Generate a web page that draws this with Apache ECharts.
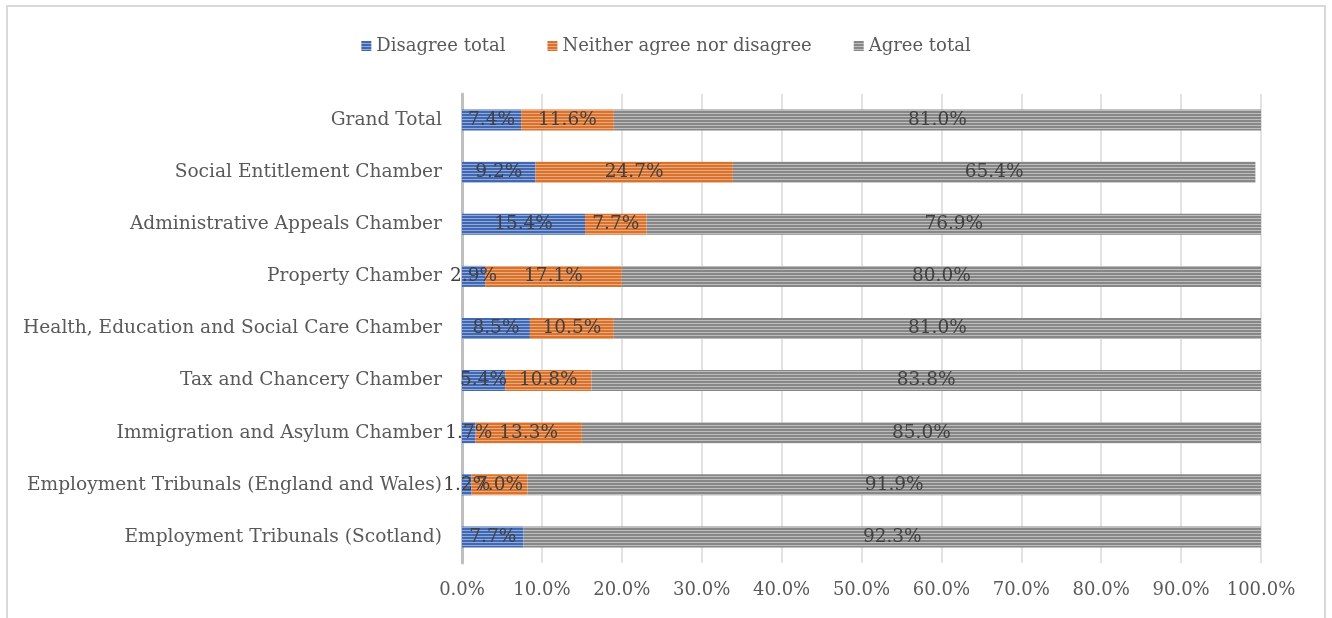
<!DOCTYPE html>
<html>
<head>
<meta charset="utf-8">
<script src="https://cdn.jsdelivr.net/npm/echarts@6/dist/echarts.min.js"></script>
<style>
  html, body { margin: 0; padding: 0; background: #fff; }
  #chart { width: 1332px; height: 618px; }
</style>
</head>
<body>
<div id="chart"></div>
<script>
// categories, top to bottom
const categories = [
  'Grand Total',
  'Social Entitlement Chamber',
  'Administrative Appeals Chamber',
  'Property Chamber',
  'Health, Education and Social Care Chamber',
  'Tax and Chancery Chamber',
  'Immigration and Asylum Chamber',
  'Employment Tribunals (England and Wales)',
  'Employment Tribunals (Scotland)'
]
const disagreeTotal = [7.4, 9.2, 15.4, 2.9, 8.5, 5.4, 1.7, 1.2, 7.7]
const neitherAgree = [11.6, 24.7, 7.7, 17.1, 10.5, 10.8, 13.3, 7.0, 0]
const agreeTotal = [81.0, 65.4, 76.9, 80.0, 81.0, 83.8, 85.0, 91.9, 92.3]

const FONT = 'DejaVu Serif'

// striped fill like excel's narrow horizontal pattern
const stripes = (dark, light) => {
  const c = document.createElement('canvas')
  c.width = 4
  c.height = 3
  const ctx = c.getContext('2d')
  ctx.fillStyle = dark
  ctx.fillRect(0, 0, 4, 3)
  ctx.fillStyle = light
  ctx.fillRect(0, 2, 4, 1)
  return { image: c, repeat: 'repeat' }
}

const makeSeries = (name, data, dark, light) => ({
  name,
  type: 'bar',
  stack: 'total',
  barWidth: 21,
  data,
  itemStyle: { color: stripes(dark, light) },
  label: {
    show: true,
    position: 'inside',
    color: '#404040',
    fontFamily: FONT,
    fontSize: 18.5,
    formatter: (p) => (p.value ? p.value.toFixed(1) + '%' : '')
  },
  emphasis: { disabled: true }
})

const chart = echarts.init(document.getElementById('chart'))
const option = {
  animation: false,
  backgroundColor: '#fff',
  textStyle: { fontFamily: FONT },
  graphic: [{
    type: 'rect',
    shape: { x: 7, y: 6, width: 1318, height: 640 },
    style: { fill: 'none', stroke: '#d9d9d9', lineWidth: 2 },
    silent: true
  }],
  legend: {
    top: 32,
    left: 'center',
    icon: 'rect',
    itemWidth: 10,
    itemHeight: 10,
    itemGap: 42,
    textStyle: { color: '#595959', fontSize: 18, fontFamily: FONT }
  },
  grid: { left: 462, right: 71, top: 94, bottom: 55 },
  xAxis: {
    type: 'value',
    min: 0,
    max: 100,
    interval: 10,
    axisLine: { show: false },
    axisTick: { show: false },
    splitLine: { lineStyle: { color: '#d9d9d9', width: 1.5 } },
    axisLabel: {
      color: '#595959',
      fontSize: 18,
      fontFamily: FONT,
      margin: 18,
      formatter: (v) => v.toFixed(1) + '%'
    }
  },
  yAxis: {
    type: 'category',
    inverse: true,
    data: categories,
    axisLine: { lineStyle: { color: '#bfbfbf', width: 3 } },
    axisTick: { show: false },
    axisLabel: { color: '#595959', fontSize: 18.6, fontFamily: FONT, margin: 20 }
  },
  series: [
    makeSeries('Disagree total', disagreeTotal, '#4168b3', '#93aad8'),
    makeSeries('Neither agree nor disagree', neitherAgree, '#d8732f', '#eca97c'),
    makeSeries('Agree total', agreeTotal, '#878787', '#bdbdbd')
  ]
}
chart.setOption(option)
</script>
</body>
</html>
